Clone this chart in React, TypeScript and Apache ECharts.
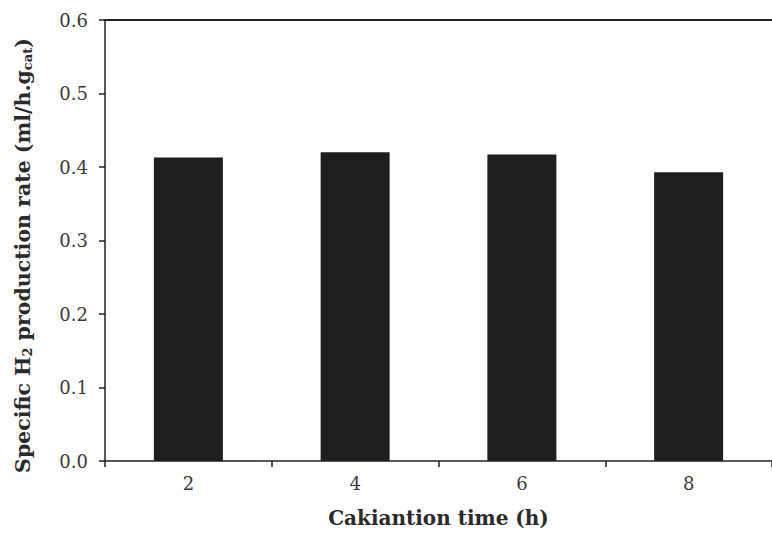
import React, { useEffect, useRef } from "react";
import * as echarts from "echarts";

const categories = ["2", "4", "6", "8"];
const rates = [0.413, 0.42, 0.417, 0.393];

export default function App() {
  const ref = useRef<HTMLDivElement>(null);
  useEffect(() => {
    const chart = echarts.init(ref.current!, null, { renderer: "svg" });
    const serif = "DejaVu Serif";
    chart.setOption({
      animation: false,
      grid: { left: 105, top: 20, width: 673, height: 442, containLabel: false },
      xAxis: [
        {
          type: "category",
          data: categories,
          position: "bottom",
          axisLine: { lineStyle: { color: "#222", width: 1.5 } },
          axisTick: { show: true, length: 6, lineStyle: { color: "#222", width: 1.5 } },
          axisLabel: { color: "#3a3a3a", fontFamily: serif, fontSize: 18, margin: 13 },
          name: "Cakiantion time (h)",
          nameLocation: "middle",
          nameGap: 47,
          nameTextStyle: { color: "#2a2a2a", fontFamily: serif, fontSize: 20, fontWeight: "bold" },
        },
        {
          type: "category",
          data: categories,
          position: "top",
          axisLine: { lineStyle: { color: "#222", width: 2 } },
          axisTick: { show: false },
          axisLabel: { show: false },
        },
      ],
      yAxis: {
        type: "value",
        min: 0,
        max: 0.6,
        interval: 0.1,
        axisLine: { show: true, lineStyle: { color: "#222", width: 1.5 } },
        axisTick: { show: true, length: 6, lineStyle: { color: "#222", width: 1.5 } },
        splitLine: { show: false },
        axisLabel: {
          color: "#3a3a3a",
          fontFamily: serif,
          fontSize: 18,
          margin: 17,
          formatter: (v: number) => v.toFixed(1),
        },
        name: "{a|Specific H}{s|2}{a| production rate (ml/h.g}{s|cat}{a|)}",
        nameLocation: "middle",
        nameGap: 71,
        nameTextStyle: {
          padding: [0, 30, 0, 0],
          rich: {
            a: { color: "#2a2a2a", fontFamily: serif, fontSize: 20.5, fontWeight: "bold" },
            s: { color: "#2a2a2a", fontFamily: serif, fontSize: 13, fontWeight: "bold", verticalAlign: "bottom", padding: [10, 0, 0, 0] },
          },
        },
      },
      series: [
        {
          type: "bar",
          data: rates,
          barWidth: 69,
          itemStyle: { color: "#1e1e1e" },
        },
      ],
    });
    return () => chart.dispose();
  }, []);
  return <div ref={ref} style={{ width: 772, height: 533, position: "absolute", left: 0, top: 0 }} />;
}
